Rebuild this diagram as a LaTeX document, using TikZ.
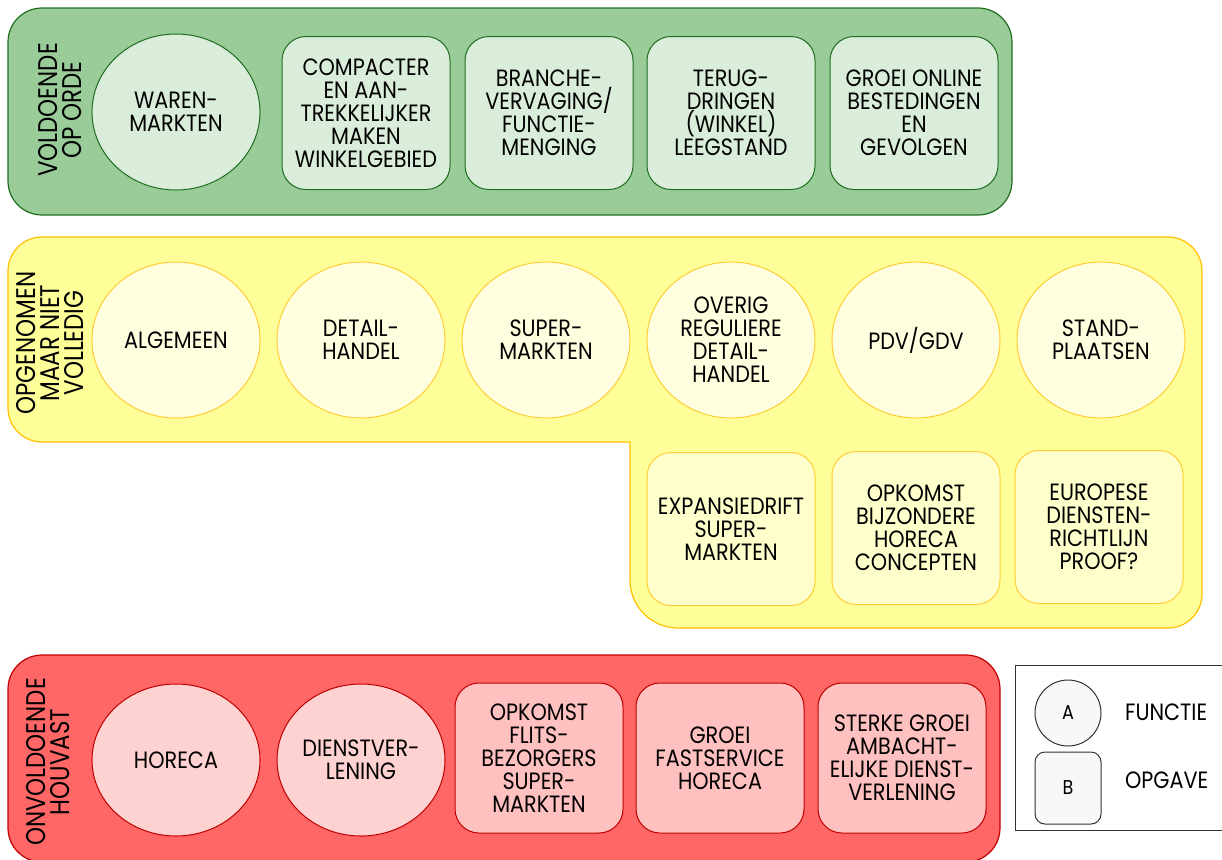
\documentclass[tikz,border=0pt]{standalone}
\usepackage{fontspec}
\setmainfont[FakeStretch=0.88]{Poppins}
\newfontfamily\titlefont[FakeStretch=0.85]{Poppins}
\usetikzlibrary{shapes.geometric}
\definecolor{gband}{RGB}{153,204,153}
\definecolor{gline}{RGB}{30,110,30}
\definecolor{gin}{RGB}{218,237,218}
\definecolor{yband}{RGB}{255,255,153}
\definecolor{yline}{RGB}{255,192,0}
\definecolor{ycirc}{RGB}{255,255,224}
\definecolor{ybox}{RGB}{255,255,204}
\definecolor{rband}{RGB}{255,102,102}
\definecolor{rline}{RGB}{192,0,0}
\definecolor{rcirc}{RGB}{255,210,210}
\definecolor{rbox}{RGB}{255,192,192}
\definecolor{lgfill}{RGB}{248,248,248}
\tikzset{
  txt/.style={font=\fontsize{11.8}{11.5}\selectfont, text=black, align=center},
  fn/.style={txt, ellipse, draw, line width=0.5pt, minimum width=84pt, minimum height=78pt, inner sep=0pt},
  task/.style={txt, rectangle, rounded corners=12pt, draw, line width=0.5pt, minimum width=84pt, minimum height=76.5pt, inner sep=0pt},
  band/.style={line width=0.6pt, rounded corners=17pt},
  bandtitle/.style={font=\titlefont\fontsize{13.5}{12}\selectfont, rotate=90, align=center, text=black},
  gfn/.style={fn, draw=gline, fill=gin},
  gtask/.style={task, draw=gline, fill=gin},
  yfn/.style={fn, draw=yline!80, fill=ycirc},
  ytask/.style={task, draw=yline!80, fill=ybox},
  rfn/.style={fn, draw=rline, fill=rcirc},
  rtask/.style={task, draw=rline, fill=rbox},
}
\begin{document}
\begin{tikzpicture}[x=0.5pt,y=-0.5pt]
\useasboundingbox (0,0) rectangle (1222,859);
% green band
\draw[band, draw=gline, fill=gband] (8,8) rectangle (1012,215);
\node[bandtitle] (gt) at (60,110) {VOLDOENDE\\OP ORDE};
\node[gfn] (g1) at (176,112) {WAREN-\\MARKTEN};
\node[gtask] (g2) at (366,113) {COMPACTER\\EN AAN-\\TREKKELIJKER\\MAKEN\\WINKELGEBIED};
\node[gtask] (g3) at (549,113) {BRANCHE-\\VERVAGING/\\FUNCTIE-\\MENGING};
\node[gtask] (g4) at (731,113) {TERUG-\\DRINGEN\\(WINKEL)\\LEEGSTAND};
\node[gtask] (g5) at (914,113) {GROEI ONLINE\\BESTEDINGEN\\EN\\GEVOLGEN};
% yellow band
\draw[line width=0.6pt, draw=yline, fill=yband] (400,237) [rounded corners=17pt] -- (1202,237) -- (1202,628) [rounded corners=24pt] -- (630,628) [sharp corners] -- (630,442) [rounded corners=17pt] -- (8,442) -- (8,237) -- cycle;
\node[bandtitle] (yt) at (50,343) {OPGENOMEN\\MAAR NIET\\VOLLEDIG};
\node[yfn] (y1) at (176,340) {ALGEMEEN};
\node[yfn] (y2) at (361,340) {DETAIL-\\HANDEL};
\node[yfn] (y3) at (546,340) {SUPER-\\MARKTEN};
\node[yfn] (y4) at (731,340) {OVERIG\\REGULIERE\\DETAIL-\\HANDEL};
\node[yfn] (y5) at (916,340) {PDV/GDV};
\node[yfn] (y6) at (1101,340) {STAND-\\PLAATSEN};
\node[ytask] (y7) at (731,529) {EXPANSIEDRIFT\\SUPER-\\MARKTEN};
\node[ytask] (y8) at (916,528) {OPKOMST\\BIJZONDERE\\HORECA\\CONCEPTEN};
\node[ytask] (y9) at (1099,527) {EUROPESE\\DIENSTEN-\\RICHTLIJN\\PROOF?};
% red band
\draw[band, draw=rline, fill=rband] (8,655) rectangle (1000,862);
\node[bandtitle] (rt) at (48,762) {ONVOLDOENDE\\HOUVAST};
\node[rfn, minimum height=76pt] (r1) at (176,760) {HORECA};
\node[rfn, minimum height=76pt] (r2) at (361,760) {DIENSTVER-\\LENING};
\node[rtask, minimum height=75pt] (r3) at (539,758) {OPKOMST\\FLITS-\\BEZORGERS\\SUPER-\\MARKTEN};
\node[rtask, minimum height=75pt] (r4) at (720,758) {GROEI\\FASTSERVICE\\HORECA};
\node[rtask, minimum height=75pt] (r5) at (902,758) {STERKE GROEI\\AMBACHT-\\ELIJKE DIENST-\\VERLENING};
% legend
\draw[line width=0.5pt, draw=black!80, fill=white] (1015,665) rectangle (1240,830);
\node[txt, font=\fontsize{10}{11.5}\selectfont, circle, draw=black!80, fill=lgfill, line width=0.5pt, minimum size=33pt, inner sep=0pt] (la) at (1068,713) {A};
\node[txt, font=\fontsize{10}{11.5}\selectfont, rectangle, rounded corners=5pt, draw=black!80, fill=lgfill, line width=0.5pt, minimum width=33pt, minimum height=36pt, inner sep=0pt] (lb) at (1068,788) {B};
\node[txt, anchor=west] (lat) at (1118,712) {FUNCTIE};
\node[txt, anchor=west] (lbt) at (1118,780) {OPGAVE};
\end{tikzpicture}
\end{document}
